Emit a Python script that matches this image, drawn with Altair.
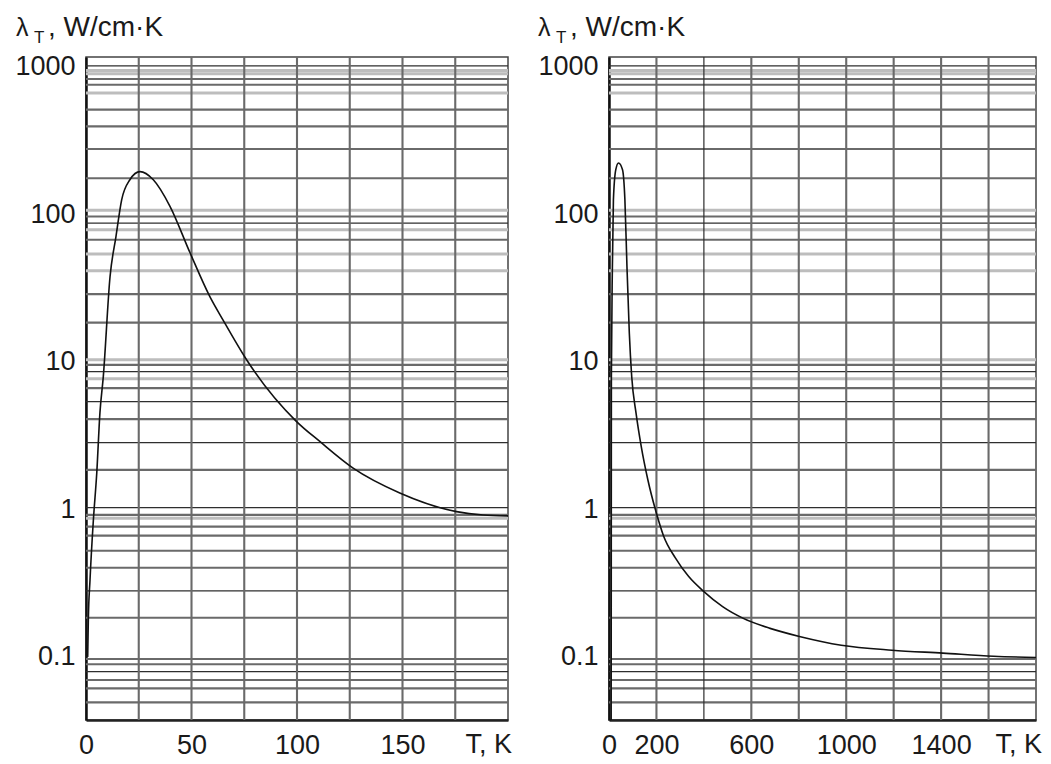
import altair as alt
import pandas as pd

# ---------------- data ----------------
# horizontal grid lines (value on the log axis) and their shade
h_grid_values = [1010, 941, 894, 823, 753, 661, 510, 393, 276, 175,
                 106, 96.4, 86.9, 78.3, 67.0, 53.6, 41.3, 28.7, 18.4, 10.3,
                 9.52, 8.57, 7.65, 6.62, 5.37, 4.08, 2.83, 1.85, 1.026, 0.916,
                 0.870, 0.763, 0.663, 0.524, 0.402, 0.280, 0.184, 0.0968, 0.0891, 0.0794,
                 0.0697, 0.0612, 0.0492]
h_grid_shades = ["dark", "light", "light", "mid", "mid", "light", "mid", "mid", "mid", "mid",
                 "light", "mid", "dark", "light", "mid", "light", "light", "mid", "mid", "light",
                 "mid", "dark", "light", "mid", "dark", "mid", "dark", "mid", "dark", "mid",
                 "light", "mid", "mid", "mid", "mid", "dark", "mid", "mid", "mid", "dark",
                 "mid", "mid", "mid"]

# left panel: T 0..200 K
left_T = [0.8, 1.1, 1.9, 3.5, 5.1, 6.6, 8.2, 11.4, 14.2, 16.9, 20.8, 25.6, 31.9, 39.8,
          49.3, 58.7, 64.9, 76.1, 99.8, 110.8, 126.6, 148.7, 175.6, 188.2, 200]
left_k = [0.100, 0.178, 0.332, 0.847, 1.76, 4.50, 7.93, 37.8, 70.5, 125, 171, 194, 171, 113,
          54.7, 27.6, 19.2, 10.3, 3.93, 2.88, 1.90, 1.29, 0.964, 0.915, 0.902]
left_v_grid = [25, 50, 75, 100, 125, 150, 175]
left_v_shades = ["mid"] * 7
left_x_ticks = [0, 50, 100, 150]

# right panel: T 0..1800 K
right_T = [9, 10, 14.3, 18.6, 28.6, 40, 57, 67, 75.7, 85.7, 95.7, 114, 136, 164, 200, 230,
           279, 336, 400, 479, 564, 679, 807, 979, 1193, 1407, 1621, 1800]
right_k = [0.02, 7.93, 44.2, 125, 200, 222, 200, 125, 44.2, 15.6, 7.93, 4.48, 2.66, 1.58, 0.940, 0.660,
           0.470, 0.350, 0.277, 0.219, 0.183, 0.156, 0.137, 0.120, 0.111, 0.106, 0.101, 0.099]
right_v_grid = [200, 400, 600, 800, 1000, 1200, 1400, 1600]
right_v_shades = ["mid", "dark", "mid", "mid", "mid", "mid", "mid", "mid"]
right_x_ticks = [0, 200, 600, 1000, 1400]

y_ticks = [0.1, 1, 10, 100, 1000]
y_domain = [0.03735, 1160]
title_parts = ["λ", "T", ", W/cm·K"]
x_end_label = "T, K"

# ---------------- styling ----------------
FONT = "Liberation Sans"
TXT = "#1a1a1a"
shade_order = ["light", "mid", "dark"]
shade_colors = ["#bdbdbd", "#6a6a6a", "#2e2e2e"]
shade_widths = [3.0, 1.2, 1.8]
H = 663

yscale = alt.Scale(type="log", domain=y_domain, nice=False, zero=False)


def grid_df(vals, shades, key):
    df = pd.DataFrame({key: vals, "shade": shades})
    df["rank"] = df["shade"].map({s: i for i, s in enumerate(shade_order)})
    return df.sort_values("rank", kind="stable")


def panel(T, K, xmax, width, x_ticks, v_vals, v_shades, title_dx, end_dx):
    xscale = alt.Scale(domain=[0, xmax], nice=False, zero=False)
    xaxis = alt.Axis(
        values=x_ticks, format="d", grid=False, ticks=False, tickSize=0,
        labelPadding=12, labelFontSize=27, labelFont=FONT, labelColor=TXT,
        labelFlush=False, labelOverlap=False, domainColor="#222", domainWidth=2.5,
        title=None)
    yaxis = alt.Axis(
        values=y_ticks, format="~g", grid=False, ticks=False, tickSize=0,
        labelPadding=11, labelFontSize=27, labelFont=FONT, labelColor=TXT,
        labelOverlap=False, labelFlush=False, domainColor="#111", domainWidth=2.5,
        title=None, minExtent=abs(title_dx) + 12, maxExtent=abs(title_dx) + 12)
    color = alt.Color("shade:N", scale=alt.Scale(domain=shade_order, range=shade_colors), legend=None)
    sw = alt.StrokeWidth("shade:O", scale=alt.Scale(domain=shade_order, range=shade_widths), legend=None)

    hgrid = alt.Chart(grid_df(h_grid_values, h_grid_shades, "v")).mark_rule().encode(
        y=alt.Y("v:Q", scale=yscale, axis=yaxis), color=color, strokeWidth=sw)
    vgrid = alt.Chart(grid_df(v_vals, v_shades, "t")).mark_rule().encode(
        x=alt.X("t:Q", scale=xscale, axis=xaxis), color=color, strokeWidth=sw)

    line = alt.Chart(pd.DataFrame({"T": T, "k": K})).mark_line(
        color="#111", strokeWidth=1.6, interpolate="monotone", clip=True
    ).encode(
        x=alt.X("T:Q", scale=xscale, axis=xaxis),
        y=alt.Y("k:Q", scale=yscale, axis=yaxis),
    )

    t_df = pd.DataFrame({"s": title_parts})
    lam = alt.Chart(t_df.iloc[[0]]).mark_text(
        font=FONT, fontSize=25, color=TXT, align="left", baseline="alphabetic"
    ).encode(text="s:N", x=alt.value(title_dx), y=alt.value(-21))
    sub = alt.Chart(t_df.iloc[[1]]).mark_text(
        font=FONT, fontSize=17, color=TXT, align="left", baseline="alphabetic"
    ).encode(text="s:N", x=alt.value(title_dx + 18), y=alt.value(-14))
    unit = alt.Chart(t_df.iloc[[2]]).mark_text(
        font=FONT, fontSize=28, color=TXT, align="left", baseline="alphabetic"
    ).encode(text="s:N", x=alt.value(title_dx + 32), y=alt.value(-21))
    endl = alt.Chart(pd.DataFrame({"s": [x_end_label]})).mark_text(
        font=FONT, fontSize=27, color=TXT, align="right", baseline="top"
    ).encode(text="s:N", x=alt.value(width + end_dx), y=alt.value(H + 12))

    return alt.layer(hgrid, vgrid, line, lam, sub, unit, endl).properties(width=width, height=H)


left = panel(left_T, left_k, 200, 422, left_x_ticks, left_v_grid, left_v_shades, -70, 4)
right = panel(right_T, right_k, 1800, 427, right_x_ticks, right_v_grid, right_v_shades, -71, 6)

chart = alt.hconcat(left, right, spacing=12).properties(
    padding={"left": 3, "top": 13, "right": 5, "bottom": 5},
    background="white",
).configure_view(stroke="#444", strokeWidth=1.5)

chart.save("out.html", embed_options={"renderer": "svg", "actions": False})
